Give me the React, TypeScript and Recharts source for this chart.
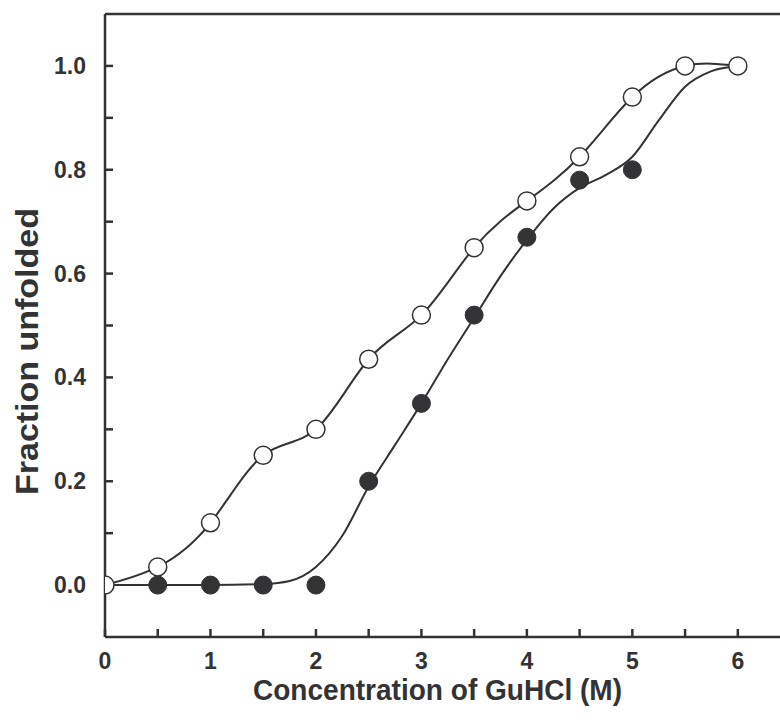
import {
  ComposedChart,
  Label,
  Line,
  ReferenceLine,
  Scatter,
  XAxis,
  YAxis,
} from 'recharts';

// GuHCl denaturation: open = measured series A, filled = series B
const concOpen = [0, 0.5, 1, 1.5, 2, 2.5, 3, 3.5, 4, 4.5, 5, 5.5, 6];
const fracOpen = [0, 0.035, 0.12, 0.25, 0.3, 0.435, 0.52, 0.65, 0.74, 0.825, 0.94, 1.0, 1.0];

const concFilled = [0.5, 1, 1.5, 2, 2.5, 3, 3.5, 4, 4.5, 5];
const fracFilled = [0, 0, 0, 0, 0.2, 0.35, 0.52, 0.67, 0.78, 0.8];

// fitted curve drawn through the filled series
const concFit = [0, 0.5, 1, 1.5, 1.75, 2, 2.25, 2.5, 2.75, 3, 3.25, 3.5, 3.75, 4, 4.25, 4.5, 4.75, 5, 5.25, 5.5, 5.75, 6];
const fracFit = [0, 0, 0, 0.002, 0.008, 0.035, 0.095, 0.19, 0.27, 0.35, 0.435, 0.515, 0.595, 0.665, 0.725, 0.765, 0.79, 0.825, 0.895, 0.96, 0.99, 1.0];

const xTicks = [0, 0.5, 1, 1.5, 2, 2.5, 3, 3.5, 4, 4.5, 5, 5.5, 6];
const yTicks = [0, 0.1, 0.2, 0.3, 0.4, 0.5, 0.6, 0.7, 0.8, 0.9, 1.0];

const X_DOMAIN: [number, number] = [0, 6.4];
const Y_DOMAIN: [number, number] = [-0.1, 1.1];

const pairs = (xs: number[], ys: number[]) => xs.map((x, i) => ({ x, y: ys[i] }));

const openData = pairs(concOpen, fracOpen);
const filledData = pairs(concFilled, fracFilled);
const fitData = pairs(concFit, fracFit);

const INK = '#333335';
const FONT = '"Liberation Sans", Arial, sans-serif';
const TICK_IN = 8; // inward tick length

const isMajorY = (v: number) => Math.round(v * 10) % 2 === 0;
const isMajorX = (v: number) => Number.isInteger(v);

// labels only; the tick lines come from the axis itself (negative tickSize = inward)
const YTick = (props: any) => {
  const x = Number(props.x);
  const y = Number(props.y);
  const v = Number(props.payload.value);
  if (!isMajorY(v)) return <g />;
  return (
    <text x={x - 19} y={y + 8} textAnchor="end" fontFamily={FONT} fontWeight="bold" fontSize={23} fill={INK}>
      {v.toFixed(1)}
    </text>
  );
};

const XTick = (props: any) => {
  const x = Number(props.x);
  const y = Number(props.y);
  const v = Number(props.payload.value);
  if (!isMajorX(v)) return <g />;
  return (
    <text x={x} y={y + 32} textAnchor="middle" fontFamily={FONT} fontWeight="bold" fontSize={23} fill={INK}>
      {v}
    </text>
  );
};

const OpenDot = (props: any) => (
  <circle cx={props.cx} cy={props.cy} r={9} fill="#fff" stroke={INK} strokeWidth={1.5} />
);

const FilledDot = (props: any) => (
  <circle cx={props.cx} cy={props.cy} r={9} fill={INK} stroke={INK} strokeWidth={1} />
);

export default function App() {
  return (
    <div style={{ position: 'absolute', left: 0, top: 0, background: '#fff' }}>
      <ComposedChart width={780} height={724} margin={{ top: 14, right: 0, left: 0, bottom: 0 }}>
        <XAxis
          type="number"
          dataKey="x"
          domain={X_DOMAIN}
          ticks={xTicks}
          interval={0}
          tick={(p: any) => <XTick {...p} />}
          tickLine={{ stroke: INK, strokeWidth: 2.5 }}
          tickSize={-TICK_IN}
          tickMargin={TICK_IN}
          height={87}
          axisLine={{ stroke: INK, strokeWidth: 2.5 }}
          allowDataOverflow
        >
          <Label
            content={(p: any) => (
              <text
                x={p.viewBox.x + p.viewBox.width / 2 - 5}
                y={p.viewBox.y + 63}
                textAnchor="middle"
                fontFamily={FONT}
                fontWeight="bold"
                fontSize={29}
                fill={INK}
                textLength={369}
                lengthAdjust="spacingAndGlyphs"
              >
                Concentration of GuHCl (M)
              </text>
            )}
          />
        </XAxis>
        <YAxis
          type="number"
          dataKey="y"
          domain={Y_DOMAIN}
          ticks={yTicks}
          interval={0}
          tick={(p: any) => <YTick {...p} />}
          tickLine={{ stroke: INK, strokeWidth: 2.5 }}
          tickSize={-TICK_IN}
          tickMargin={TICK_IN}
          width={105}
          axisLine={{ stroke: INK, strokeWidth: 2.5 }}
          allowDataOverflow
        >
          <Label
            content={(p: any) => {
              const cx = 27;
              const cy = p.viewBox.y + p.viewBox.height / 2 + 26;
              return (
                <text
                  x={cx}
                  y={cy}
                  transform={`rotate(-90 ${cx} ${cy})`}
                  textAnchor="middle"
                  dominantBaseline="central"
                  fontFamily={FONT}
                  fontWeight="bold"
                  fontSize={31}
                  fill={INK}
                  textLength={287}
                  lengthAdjust="spacingAndGlyphs"
                >
                  Fraction unfolded
                </text>
              );
            }}
          />
        </YAxis>
        <ReferenceLine y={Y_DOMAIN[1]} stroke={INK} strokeWidth={2.5} />
        <Line data={openData} dataKey="y" type="natural" stroke={INK} strokeWidth={2} dot={false} isAnimationActive={false} />
        <Line data={fitData} dataKey="y" type="monotone" stroke={INK} strokeWidth={2} dot={false} isAnimationActive={false} />
        <Scatter data={filledData} dataKey="y" shape={<FilledDot />} isAnimationActive={false} />
        <Scatter data={openData} dataKey="y" shape={<OpenDot />} isAnimationActive={false} />
      </ComposedChart>
    </div>
  );
}
